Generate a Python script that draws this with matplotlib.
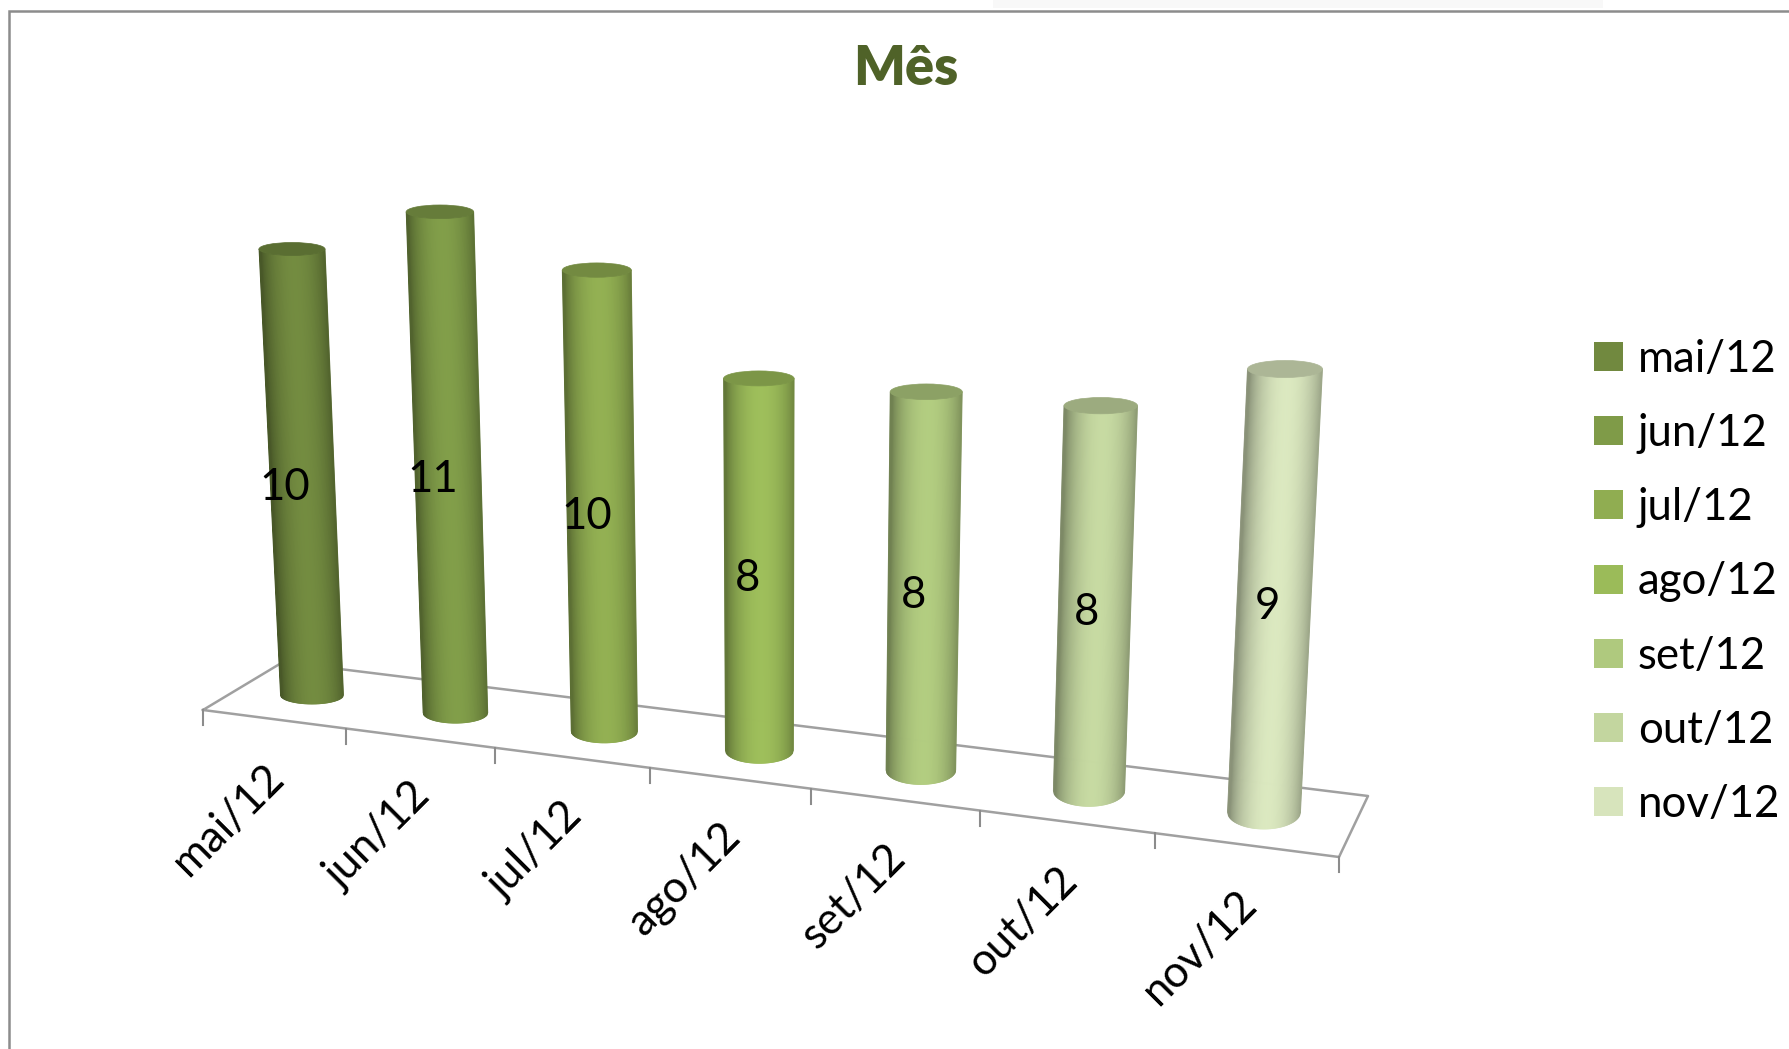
import numpy as np
import matplotlib
matplotlib.use('Agg')
from matplotlib import pyplot as plt
from matplotlib.collections import PolyCollection
from matplotlib.patches import Ellipse, Patch

months = ['mai/12', 'jun/12', 'jul/12', 'ago/12', 'set/12', 'out/12', 'nov/12']
values = [10, 11, 10, 8, 8, 8, 9]
colors = ['#71893F', '#7F9B48', '#90AD51', '#9BBB59', '#AFC97E', '#C3D69F', '#D7E4BC']

plt.rcParams['font.family'] = ['Lato', 'DejaVu Sans']


def homography(src, dst):
    # plane -> screen mapping from four matched points
    a, b = [], []
    for (x, y), (u, v) in zip(src, dst):
        a.append([x, y, 1, 0, 0, 0, -u*x, -u*y])
        a.append([0, 0, 0, x, y, 1, -v*x, -v*y])
        b += [u, v]
    h = np.linalg.solve(np.array(a, float), np.array(b, float))
    return np.append(h, 1).reshape(3, 3)


def apply_h(h, x, y):
    p = h @ np.array([x, y, 1.0])
    return p[0]/p[2], p[1]/p[2]


# front wall: (category, value) -> pixel
wall = homography([(0, 0), (6, 0), (0, 10), (6, 9)],
                  [(312, 695), (1264, 812), (292, 249), (1285, 369)])
# floor: (category, depth) -> pixel
floor = homography([(-.5, 0), (6.5, 0), (-.5, 1), (6.5, 1)],
                   [(203, 710), (1339, 857), (283, 662), (1368, 796)])

# front edge has stronger perspective than the floor outline, so its own 1d mapping
m = np.array([[c, 1, -x*c] for c, x in [(-.5, 203), (2.5, 650), (6.5, 1339)]], float)
ea, eb, eg = np.linalg.solve(m, np.array([203, 650, 1339], float))


def front(c):
    x = (ea*c+eb)/(eg*c+1)
    return x, 710+(x-203)*(857-710)/(1339-203)


fig = plt.figure(figsize=(17.89, 10.49), dpi=100)
ax = fig.add_axes([0, 0, 1, 1])
ax.set_xlim(0, 1789)
ax.set_ylim(1049, 0)
ax.axis('off')

# chart frame
ax.plot([9, 9, 1789], [1049, 10.5, 10.5], color='#8C8C8C', lw=1.8, solid_joinstyle='miter')
ax.fill_between([993, 1603], 0, 8, color='#F8F8F8', lw=0)

# floor and ticks
grid = '#A0A0A0'
corners = [apply_h(floor, *c) for c in [(-.5, 0), (-.5, 1), (6.5, 1), (6.5, 0), (-.5, 0)]]
ax.plot(*zip(*corners), color=grid, lw=1.8, zorder=1)
for i in range(len(months)+1):
    x, y = front(i-.5)
    ax.plot([x, x], [y, y+15], color='#8C8C8C', lw=1.5, zorder=1)

# cylinders
n = len(months)
for i, (val, col) in enumerate(zip(values, colors)):
    f = i/(n-1)
    nudge = -2.5*np.sin(np.pi*f)
    bx, by = apply_h(wall, i, 0)
    tx, ty = apply_h(wall, i, val)
    bx, tx = bx+nudge, tx+nudge
    bw, tw = 31.5+5*f, 33+4.5*f
    bh, th = 9+8*f, 6.5+2*f
    base = np.array(matplotlib.colors.to_rgb(col))
    us = np.linspace(-1, 1, 81)
    polys, cols = [], []
    for u0, u1 in zip(us[:-1], us[1:]):
        um = (u0+u1)/2
        s0, s1 = np.sqrt(1-u0**2), np.sqrt(1-u1**2)
        polys.append([(tx+u0*tw, ty+s0*th), (tx+u1*tw, ty+s1*th),
                      (bx+u1*bw, by+s1*bh), (bx+u0*bw, by+s0*bh)])
        shade = 0.64+0.38*max(0, 1-(um-0.08)**2)**0.8
        cols.append(np.clip(base*shade, 0, 1))
    ax.add_collection(PolyCollection(polys, facecolors=cols, edgecolors=cols, linewidths=.6, zorder=3+i))
    ax.add_patch(Ellipse((tx, ty), 2*tw, 2*th, facecolor=base*0.8, edgecolor=base*0.8, lw=.5, zorder=3+i))
    # value label
    lx, ly = apply_h(wall, i, val/2)
    ax.text(lx+nudge-17+10*f, ly+11, str(val), fontsize=31.5, color='black', ha='center', va='center', zorder=20)
    # month label
    fx, fy = front(i)
    ax.text(fx+4, fy+52, months[i], fontsize=31.5, rotation=45, rotation_mode='anchor',
            ha='right', va='center', color='black')

ax.text(906, 69, 'Mês', fontsize=39, fontweight='heavy', color='#4F6228', ha='center', va='center')

handles = [Patch(facecolor=c, edgecolor='none') for c in colors]
ax.legend(handles, months, loc='center left', bbox_to_anchor=(1594, 582), bbox_transform=ax.transData,
          frameon=False, fontsize=31.5, handlelength=.66, handleheight=.64, handletextpad=.34,
          labelspacing=.76, borderpad=0, borderaxespad=0)

fig.savefig('out.png', dpi=100)
